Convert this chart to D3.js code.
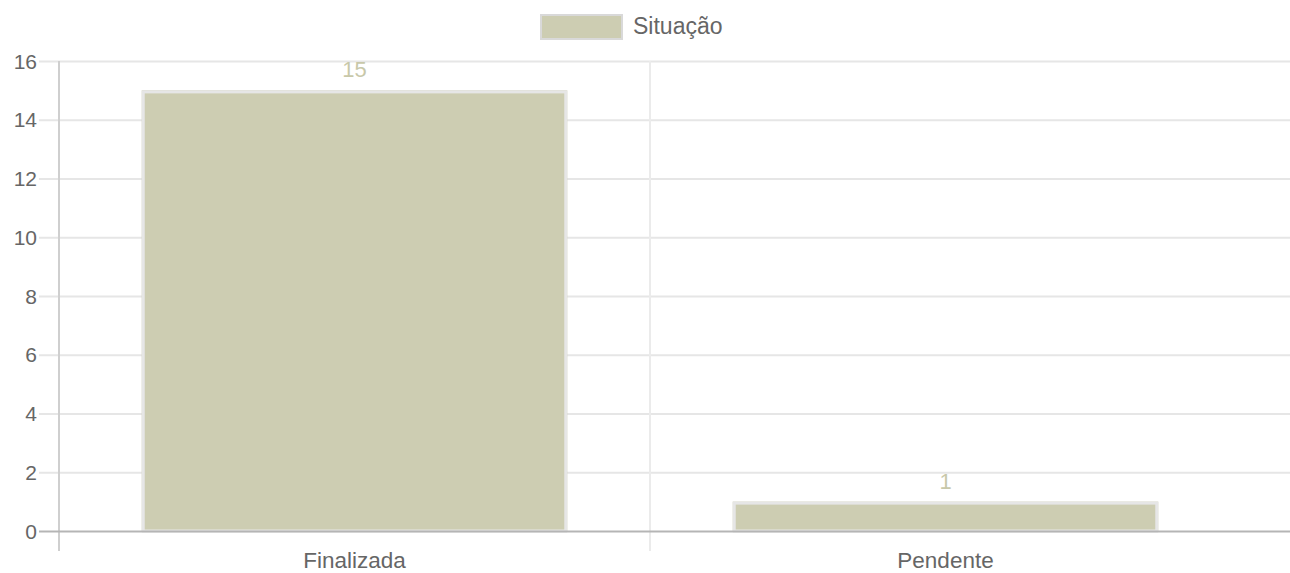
<!DOCTYPE html>
<html><head><meta charset="utf-8">
<script src="https://cdn.jsdelivr.net/npm/d3@7"></script>
<style>html,body{margin:0;padding:0;background:#fff;}svg{display:block;font-family:"Liberation Sans",Arial,sans-serif;}</style>
</head><body>
<svg id="chart" width="1290" height="573"></svg>
<script>
const categories = ["Finalizada", "Pendente"];
const values = [15, 1];
const seriesName = "Situação";
const yTicks = [0, 2, 4, 6, 8, 10, 12, 14, 16];

(function () {
const W = 1290, H = 573;
const pLeft = 59, pRight = 1241, pTop = 61, pBottom = 531;
const svg = d3.select("#chart");

const x = d3.scaleBand().domain(categories).range([pLeft, pRight]).paddingInner(0).paddingOuter(0);
const y = d3.scaleLinear().domain([0, 16]).range([pBottom, pTop]);

// horizontal grid lines
svg.append("g").selectAll("line").data(yTicks.filter(d => d !== 0)).join("line")
  .attr("x1", 39).attr("x2", W)
  .attr("y1", d => y(d) + 0.5).attr("y2", d => y(d) + 0.5)
  .attr("stroke", "#e6e6e6").attr("stroke-width", 2);

// vertical grid lines at category boundaries
const vLines = [pLeft, x(categories[1])];
svg.append("g").selectAll("line").data(vLines).join("line")
  .attr("x1", d => d).attr("x2", d => d)
  .attr("y1", pTop).attr("y2", 551)
  .attr("stroke", (d, i) => i === 0 ? "#cfcfcf" : "#ebebeb").attr("stroke-width", 2);

// y tick labels
svg.append("g").selectAll("text").data(yTicks).join("text")
  .attr("x", 37).attr("y", d => y(d))
  .attr("dy", "0.36em")
  .attr("text-anchor", "end")
  .attr("fill", "#666").attr("font-size", 21)
  .text(d => d);

// bars
const bw = x.bandwidth() * 0.72;
const bars = svg.append("g").selectAll("g").data(categories).join("g");
bars.append("rect")
  .attr("x", d => x(d) + (x.bandwidth() - bw) / 2)
  .attr("y", (d, i) => y(values[i]))
  .attr("width", bw)
  .attr("height", (d, i) => y(0) - y(values[i]))
  .attr("fill", "#cdcdb2");
bars.append("rect")
  .attr("x", d => x(d) + (x.bandwidth() - bw) / 2 + 1.5)
  .attr("y", (d, i) => y(values[i]) + 1.5)
  .attr("width", bw - 3)
  .attr("height", (d, i) => y(0) - y(values[i]) - 1.5)
  .attr("fill", "none").attr("stroke", "#e6e6e6").attr("stroke-width", 3);

// zero line (x axis)
svg.append("line")
  .attr("x1", 39).attr("x2", W)
  .attr("y1", y(0) + 0.5).attr("y2", y(0) + 0.5)
  .attr("stroke", "#b5b5b5").attr("stroke-width", 2);

// value labels
svg.append("g").selectAll("text").data(categories).join("text")
  .attr("x", d => x(d) + x.bandwidth() / 2)
  .attr("y", (d, i) => y(values[i]) - 13)
  .attr("text-anchor", "middle")
  .attr("fill", "#c8c8a9").attr("font-size", 22)
  .text((d, i) => values[i]);

// x labels
svg.append("g").selectAll("text").data(categories).join("text")
  .attr("x", d => x(d) + x.bandwidth() / 2)
  .attr("y", 568)
  .attr("text-anchor", "middle")
  .attr("fill", "#666").attr("font-size", 22.5)
  .text(d => d);

// legend
const lg = svg.append("g");
lg.append("rect").attr("x", 541).attr("y", 15).attr("width", 81).attr("height", 24)
  .attr("fill", "#cdcdb2").attr("stroke", "#d9d9d9").attr("stroke-width", 2);
lg.append("text").attr("x", 633).attr("y", 34).attr("fill", "#666").attr("font-size", 23).text(seriesName);
})();
</script>
</body></html>
